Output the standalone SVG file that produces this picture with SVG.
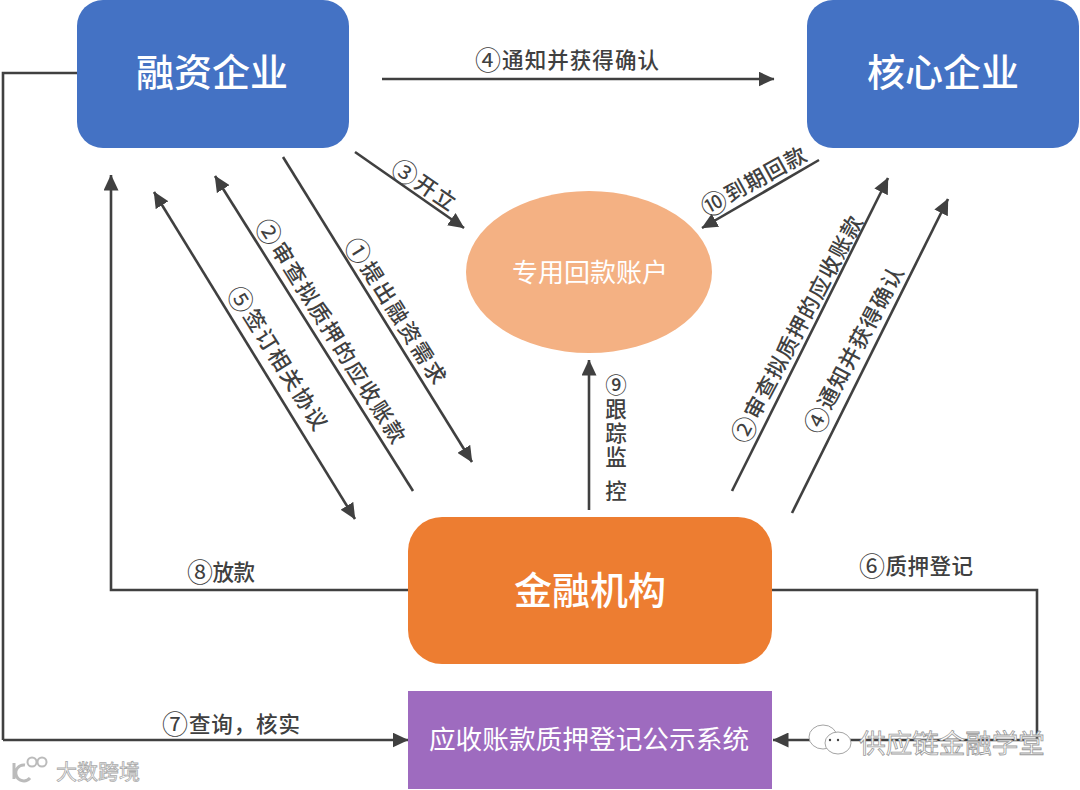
<svg xmlns="http://www.w3.org/2000/svg" width="1080" height="790" viewBox="0 0 1080 790">
<style>
text{font-family:"Noto Sans CJK SC","Noto Sans",sans-serif;text-anchor:middle;dominant-baseline:central}
.lb{font-size:21.5px;fill:#404040;font-weight:500}
.n{font-size:26px;font-weight:400}
.nd{font-size:38px;fill:#fff;font-weight:500}
.c{fill:none;stroke:#404040;stroke-width:2.6}
.a{marker-end:url(#ah)}
.wm{fill:#fff;stroke:#9a9a9a;stroke-width:.9}
</style>
<defs>
<marker id="ah" markerUnits="userSpaceOnUse" viewBox="0 0 16 15" refX="15.5" refY="7.5" markerWidth="16" markerHeight="15" orient="auto-start-reverse"><path d="M0 0L16 7.5L0 15Z" fill="#404040"/></marker>
</defs>
<rect width="1080" height="790" fill="#fff"/>
<g id="connectors">
<path class="c a" d="M382 79H774"/>
<path class="c" d="M78 73H3V740"/><path class="c a" d="M3 740H408"/>
<path class="c a" d="M410 590H111V175"/>
<path class="c a" d="M771 590H1037V740H773"/>
<path class="c a" d="M283 157L472 462"/>
<path class="c a" d="M413 491L215 176"/>
<path class="c a" d="M154 192L355 519" style="marker-start:url(#ah)"/>
<path class="c a" d="M355 152L464 228"/>
<path class="c a" d="M819 160L702 228"/>
<path class="c a" d="M732 491L888 178"/>
<path class="c a" d="M792 513L948 199"/>
<path class="c a" d="M589 510V360"/>
</g>
<g id="node-rz"><rect x="77" y="0" width="272" height="148" rx="26" fill="#4472c4"/><text class="nd" x="212" y="69">融资企业</text></g>
<g id="node-hx"><rect x="807" y="0" width="272" height="148" rx="26" fill="#4472c4"/><text class="nd" x="943" y="69">核心企业</text></g>
<g id="node-zh"><ellipse cx="589" cy="272" rx="123" ry="81" fill="#f4b183"/><text x="590" y="270" font-size="26" fill="#fff">专用回款账户</text></g>
<g id="node-jr"><rect x="408" y="517" width="364" height="147" rx="34" fill="#ed7d31"/><text class="nd" x="590" y="587">金融机构</text></g>
<g id="node-xt"><rect x="408" y="691" width="364" height="98" fill="#9e6bbf"/><text x="589" y="737" font-size="26.7" fill="#fff">应收账款质押登记公示系统</text></g>
<g id="labels">
<text class="lb" x="567" y="58" textLength="184"><tspan class="n">④</tspan>通知并获得确认</text>
<text class="lb" transform="translate(397.5 310) rotate(58)" textLength="168"><tspan class="n">①</tspan>提出融资需求</text>
<text class="lb" transform="translate(332.5 330) rotate(58)" textLength="260"><tspan class="n">②</tspan>审查拟质押的应收账款</text>
<text class="lb" transform="translate(279.5 357) rotate(58)" textLength="165"><tspan class="n">⑤</tspan>签订相关协议</text>
<text class="lb" transform="translate(425 183.5) rotate(34)" textLength="72"><tspan class="n">③</tspan>开立</text>
<text class="lb" transform="translate(752.5 179.5) rotate(-29)" textLength="117"><tspan class="n">⑩</tspan>到期回款</text>
<text class="lb" transform="translate(795.5 328.5) rotate(-62)" textLength="253"><tspan class="n">②</tspan>审查拟质押的应收账款</text>
<text class="lb" transform="translate(852.5 349) rotate(-62)" textLength="185"><tspan class="n">④</tspan>通知并获得确认</text>
<text class="lb" x="616" y="374" style="writing-mode:vertical-rl;text-anchor:start;letter-spacing:2.5px">⑨跟踪监<tspan dy="10">控</tspan></text>
<text class="lb" x="221" y="570" textLength="68"><tspan class="n">⑧</tspan>放款</text>
<text class="lb" x="916" y="564" textLength="114"><tspan class="n">⑥</tspan>质押登记</text>
<text class="lb" x="231" y="722" textLength="138"><tspan class="n">⑦</tspan>查询，核实</text>
</g>
<g id="watermarks">
<ellipse class="wm" cx="823" cy="737" rx="14" ry="12"/>
<ellipse class="wm" cx="838" cy="743" rx="13" ry="11"/>
<circle cx="830" cy="740" r="1.2" fill="#444"/><circle cx="838" cy="740" r="1.2" fill="#444"/>
<text class="wm" x="952" y="741" font-size="26.5" style="stroke-width:.8">供应链金融学堂</text>
<path d="M14 763V779M25 765a8 8 0 1 0 5 13" fill="none" stroke="#bbb" stroke-width="3"/>
<circle cx="32" cy="762" r="4.5" fill="none" stroke="#bbb" stroke-width="2"/><circle cx="42" cy="762" r="4.5" fill="none" stroke="#bbb" stroke-width="2"/>
<text x="98" y="770" font-size="21" fill="#fff" stroke="#aaa" stroke-width=".8">大数跨境</text>
</g>
</svg>
